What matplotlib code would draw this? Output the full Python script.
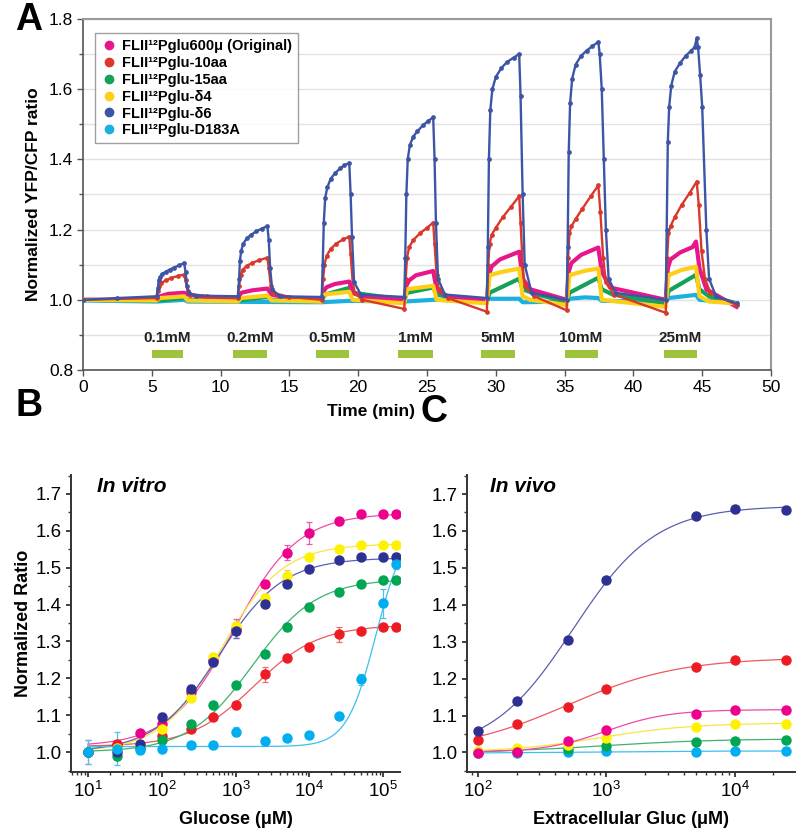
import numpy as np
import matplotlib
matplotlib.use("Agg")
import matplotlib.pyplot as plt
from matplotlib.lines import Line2D
from matplotlib.ticker import MultipleLocator, LogLocator, NullFormatter

plt.rcParams['font.family'] = ['Liberation Sans', 'DejaVu Sans']
plt.rcParams['mathtext.default'] = 'regular'

# ---------------- Panel A data (time traces) ----------------
names = ["FLII¹²Pglu600μ (Original)", "FLII¹²Pglu-10aa", "FLII¹²Pglu-15aa",
         "FLII¹²Pglu-δ4", "FLII¹²Pglu-δ6", "FLII¹²Pglu-D183A"]
colA = ["#e8168b", "#d9392b", "#16a05a", "#fdd017", "#3c55a5", "#1ab0e0"]

t_blue = [0, 2.5, 5.35, 5.45, 5.5, 5.6, 5.75, 6.0, 6.3, 6.6, 7.0, 7.35, 7.45, 7.55, 7.7, 8.2,
          11.25, 11.35, 11.4, 11.5, 11.65, 11.9, 12.2, 12.6, 13.0, 13.4, 13.5, 13.6, 13.75, 14.3,
          17.35, 17.42, 17.5, 17.6, 17.75, 18.0, 18.3, 18.7, 19.0, 19.35, 19.45, 19.55, 19.7, 20.2,
          23.35, 23.42, 23.5, 23.6, 23.75, 24.0, 24.3, 24.7, 25.1, 25.45, 25.55, 25.65, 25.8, 26.3,
          29.35, 29.42, 29.5, 29.6, 29.75, 30.0, 30.4, 30.8, 31.3, 31.7, 31.8, 31.95, 32.1, 32.6,
          35.15, 35.22, 35.3, 35.4, 35.55, 35.8, 36.2, 36.6, 37.0, 37.45, 37.55, 37.7, 37.85, 38.0, 38.2, 38.7,
          42.35, 42.42, 42.5, 42.6, 42.75, 43.0, 43.4, 43.8, 44.2, 44.45, 44.6, 44.7, 44.85, 45.0,
          45.3, 45.5, 46.0, 47.5]
v_blue = [1.0, 1.005, 1.01, 1.035, 1.055, 1.065, 1.073, 1.08, 1.086, 1.092, 1.098, 1.105, 1.08, 1.04, 1.02, 1.012,
          1.01, 1.06, 1.11, 1.14, 1.16, 1.175, 1.185, 1.195, 1.203, 1.21, 1.17, 1.09, 1.03, 1.01,
          1.008, 1.1, 1.22, 1.29, 1.32, 1.345, 1.36, 1.375, 1.383, 1.39, 1.3, 1.18, 1.05, 1.015,
          1.008, 1.12, 1.3, 1.4, 1.44, 1.465, 1.48, 1.497, 1.51, 1.52, 1.4, 1.22, 1.06, 1.015,
          1.005, 1.15, 1.4, 1.54, 1.6, 1.635, 1.66, 1.677, 1.69, 1.70, 1.58, 1.3, 1.1, 1.02,
          1.0, 1.15, 1.42, 1.56, 1.63, 1.67, 1.695, 1.71, 1.722, 1.735, 1.70, 1.60, 1.40, 1.2, 1.06, 1.02,
          1.0, 1.2, 1.45, 1.55, 1.61, 1.65, 1.675, 1.695, 1.71, 1.72, 1.745, 1.72, 1.64, 1.55,
          1.2, 1.06, 1.01, 0.99]

t_red = [0, 5.35, 5.45, 5.55, 5.7, 6.0, 6.4, 6.9, 7.35, 7.45, 7.6, 7.8, 9.0, 11.25,
         11.35, 11.45, 11.6, 11.9, 12.3, 12.8, 13.4, 13.5, 13.65, 13.8, 15.0, 17.35,
         17.45, 17.55, 17.7, 18.0, 18.4, 18.9, 19.35, 19.45, 19.6, 19.75, 20.3, 23.35,
         23.45, 23.55, 23.7, 24.0, 24.5, 25.0, 25.45, 25.55, 25.7, 25.85, 26.5, 29.35,
         29.45, 29.55, 29.7, 30.0, 30.5, 31.1, 31.7, 31.8, 31.95, 32.1, 32.8, 35.15,
         35.25, 35.35, 35.5, 35.8, 36.3, 36.9, 37.45, 37.6, 37.8, 38.0, 38.6, 42.35,
         42.45, 42.55, 42.7, 43.0, 43.5, 44.1, 44.6, 44.75, 44.95, 45.2, 45.6, 47.5]
v_red = [1.0, 1.005, 1.025, 1.04, 1.048, 1.055, 1.062, 1.068, 1.072, 1.055, 1.025, 1.015, 1.01, 1.005,
         1.04, 1.07, 1.085, 1.097, 1.105, 1.113, 1.12, 1.09, 1.04, 1.02, 1.008, 1.0,
         1.06, 1.1, 1.125, 1.145, 1.16, 1.172, 1.18, 1.13, 1.05, 1.02, 1.0, 0.974,
         1.06, 1.12, 1.15, 1.17, 1.19, 1.205, 1.22, 1.16, 1.07, 1.03, 1.005, 0.966,
         1.1, 1.16, 1.185, 1.205, 1.235, 1.265, 1.295, 1.22, 1.1, 1.04, 1.01, 0.97,
         1.12, 1.19, 1.21, 1.23, 1.26, 1.295, 1.326, 1.25, 1.12, 1.05, 1.015, 0.963,
         1.12, 1.19, 1.21, 1.235, 1.27, 1.305, 1.337, 1.27, 1.14, 1.06, 1.02, 0.985]

t_pink = [0, 5.35, 5.6, 6.2, 7.35, 7.6, 9.0, 11.25, 11.5, 12.3, 13.4, 13.7, 15.0,
          17.35, 17.5, 17.7, 18.3, 19.35, 19.6, 20.5, 23.35, 23.5, 23.7, 24.2, 25.45, 25.7, 26.5,
          29.35, 29.5, 29.7, 30.3, 31.7, 31.95, 32.5, 35.15, 35.3, 35.5, 36.2, 37.45, 37.7, 38.3,
          42.35, 42.5, 42.7, 43.4, 44.3, 44.55, 44.8, 45.3, 47.5]
v_pink = [1.0, 1.0, 1.01, 1.017, 1.02, 1.015, 1.008, 1.005, 1.02, 1.027, 1.032, 1.015, 1.005,
          1.0, 1.025, 1.036, 1.045, 1.052, 1.02, 1.005, 1.0, 1.04, 1.055, 1.07, 1.082, 1.03, 1.01,
          0.998, 1.07, 1.095, 1.115, 1.137, 1.06, 1.03, 1.0, 1.08, 1.105, 1.128, 1.149, 1.08, 1.035,
          1.0, 1.09, 1.115, 1.135, 1.15, 1.166, 1.09, 1.03, 0.98]

t_green = [0, 5.35, 7.35, 7.6, 11.25, 13.4, 13.7, 17.35, 17.6, 19.35, 19.6, 21.5,
           23.35, 23.55, 25.45, 25.7, 27.0, 29.35, 29.55, 31.7, 31.95, 33.0,
           35.15, 35.35, 37.45, 37.7, 38.5, 42.35, 42.55, 44.55, 44.8, 45.5, 47.5]
v_green = [1.0, 0.998, 1.005, 1.0, 0.998, 1.008, 1.0, 0.998, 1.015, 1.034, 1.02, 1.01,
           1.0, 1.02, 1.035, 1.015, 1.005, 0.995, 1.02, 1.06, 1.03, 1.015,
           0.995, 1.02, 1.063, 1.03, 1.015, 0.99, 1.025, 1.071, 1.03, 1.01, 0.99]

t_yellow = [0, 5.35, 5.6, 7.35, 7.6, 11.25, 11.5, 13.4, 13.7, 17.35, 17.55, 19.35, 19.6,
            23.35, 23.55, 25.45, 25.7, 26.3, 29.35, 29.55, 30.5, 31.7, 31.95, 32.5,
            35.15, 35.35, 36.5, 37.45, 37.7, 42.35, 42.55, 43.5, 44.55, 44.8, 45.5, 47.5]
v_yellow = [1.0, 0.998, 1.005, 1.01, 0.998, 0.995, 1.005, 1.012, 0.998, 0.995, 1.015, 1.023, 1.0,
            0.99, 1.03, 1.04, 1.0, 0.998, 0.99, 1.07, 1.08, 1.089, 1.01, 1.0,
            0.985, 1.07, 1.083, 1.089, 1.0, 0.98, 1.07, 1.085, 1.094, 1.01, 0.995, 0.99]

t_cyan = [0, 5.35, 7.35, 7.6, 17.35, 19.35, 23.35, 25.45, 29.35, 29.5, 31.7, 31.95,
          35.15, 35.35, 36.5, 37.45, 37.7, 42.35, 42.55, 44.55, 44.8, 47.5]
v_cyan = [0.998, 0.995, 1.0, 0.995, 0.993, 0.997, 0.995, 1.0, 0.997, 1.003, 1.003, 0.993,
          0.995, 1.003, 1.007, 1.005, 0.997, 0.995, 1.005, 1.014, 1.0, 0.99]

pulse_labels = ["0.1mM", "0.2mM", "0.5mM", "1mM", "5mM", "10mM", "25mM"]
pulse_start = [5.0, 10.9, 16.9, 22.9, 28.9, 35.0, 42.2]
pulse_end = [7.3, 13.4, 19.3, 25.4, 31.4, 37.4, 44.6]

# ---------------- Panel B data (in vitro) ----------------
xB = [10, 25, 50, 100, 250, 500, 1000, 2500, 5000, 10000, 25000, 50000, 100000, 150000]
B_pink = [1.000, 1.020, 1.052, 1.076, 1.162, 1.250, 1.335, 1.457, 1.541, 1.594, 1.626, 1.647, 1.647, 1.647]
B_red = [1.000, 1.021, 1.015, 1.043, 1.062, 1.096, 1.127, 1.211, 1.254, 1.285, 1.319, 1.329, 1.340, 1.340]
B_green = [1.000, 0.989, 1.010, 1.033, 1.075, 1.127, 1.182, 1.266, 1.340, 1.393, 1.434, 1.455, 1.466, 1.466]
B_yellow = [1.000, 1.010, 1.020, 1.062, 1.148, 1.257, 1.341, 1.418, 1.478, 1.529, 1.550, 1.563, 1.563, 1.563]
B_navy = [1.000, 1.000, 1.021, 1.096, 1.171, 1.243, 1.329, 1.401, 1.457, 1.497, 1.520, 1.529, 1.529, 1.529]
B_cyan = [1.000, 1.009, 1.007, 1.009, 1.019, 1.019, 1.055, 1.030, 1.039, 1.046, 1.098, 1.197, 1.403, 1.511]
E_pink = [0.032, 0.01, 0.008, 0.008, 0.01, 0.01, 0.025, 0.008, 0.02, 0.03, 0.01, 0.01, 0.008, 0.008]
E_red = [0.005, 0.01, 0.005, 0.005, 0.005, 0.008, 0.005, 0.02, 0.005, 0.008, 0.02, 0.005, 0.005, 0.005]
E_green = [0.005, 0.01, 0.005, 0.005, 0.005, 0.005, 0.008, 0.008, 0.008, 0.005, 0.008, 0.008, 0.005, 0.005]
E_yellow = [0.005, 0.005, 0.005, 0.008, 0.008, 0.01, 0.01, 0.01, 0.015, 0.005, 0.008, 0.008, 0.008, 0.008]
E_navy = [0.005, 0.005, 0.005, 0.01, 0.01, 0.01, 0.02, 0.01, 0.01, 0.005, 0.005, 0.008, 0.01, 0.01]
E_cyan = [0.032, 0.045, 0.005, 0.005, 0.005, 0.005, 0.012, 0.005, 0.005, 0.005, 0.005, 0.015, 0.04, 0.015]
# Hill fit parameters (Rmin, Rmax, K [uM], n)
fitB = {"pink": (1.015, 1.648, 950, 1.0), "red": (1.015, 1.345, 1800, 1.0),
        "green": (1.0, 1.47, 1700, 1.0), "yellow": (1.0, 1.565, 650, 1.05),
        "navy": (1.0, 1.527, 600, 1.0), "cyan": (1.015, 1.62, 80000, 2.2)}

# ---------------- Panel C data (in vivo) ----------------
xC = [100, 200, 500, 1000, 5000, 10000, 25000]
C_navy = [1.058, 1.139, 1.305, 1.466, 1.641, 1.659, 1.657]
C_red = [1.035, 1.078, 1.122, 1.172, 1.232, 1.251, 1.251]
C_pink = [0.999, 1.001, 1.031, 1.060, 1.105, 1.114, 1.114]
C_yellow = [1.004, 1.011, 1.019, 1.038, 1.069, 1.076, 1.078]
C_green = [1.000, 1.004, 1.008, 1.017, 1.028, 1.031, 1.035]
C_cyan = [0.998, 0.998, 1.000, 1.004, 1.000, 1.003, 1.004]
fitC = {"navy": (1.0, 1.668, 550, 1.35), "red": (1.0, 1.257, 500, 1.0),
        "pink": (1.0, 1.116, 1000, 1.8), "yellow": (1.0, 1.08, 900, 1.2),
        "green": (1.0, 1.037, 1000, 1.0), "cyan": (0.998, 1.004, 700, 1.0)}

pt_col = {"pink": "#ec008c", "red": "#ed1c24", "green": "#00a651",
          "yellow": "#fff200", "navy": "#2e3192", "cyan": "#00aeef"}
ln_col = {"pink": "#ee4aa5", "red": "#f0585c", "green": "#3cb36e",
          "yellow": "#f5e642", "navy": "#5a5fae", "cyan": "#3cc0f0"}
err_col = {"pink": "#ee5aa8", "red": "#f06a6a", "green": "#40b070",
           "yellow": "#e8d830", "navy": "#6a70b8", "cyan": "#50c0ee"}


def hill(x, p):
    rmin, rmax, k, n = p
    x = np.asarray(x, float)
    return rmin + (rmax - rmin) * x**n / (k**n + x**n)


fig = plt.figure(figsize=(8.0, 8.39), dpi=100)

# ================= Panel A =================
axA = fig.add_axes([83/800, 1-370/839, 688/800, 351/839])
traces = [(t_cyan, v_cyan, 5, 3.0), (t_green, v_green, 2, 3.0), (t_pink, v_pink, 0, 3.0),
          (t_yellow, v_yellow, 3, 3.0), (t_red, v_red, 1, 1.7), (t_blue, v_blue, 4, 1.7)]
for t, v, ci, lw in traces:
    ms = 2.4 if lw < 2 else 0
    axA.plot(t, v, color=colA[ci], lw=lw, marker='o', ms=ms, solid_joinstyle='round', zorder=3)
for lab, s, e in zip(pulse_labels, pulse_start, pulse_end):
    axA.add_patch(plt.Rectangle((s, 0.835), e - s, 0.022, color="#9dc43c", lw=0, zorder=3))
    axA.text((s + e) / 2, 0.872, lab, ha='center', va='bottom', fontsize=11,
             fontweight='bold', color='#222222', zorder=4)
axA.set_xlim(0, 50)
axA.set_ylim(0.8, 1.8)
axA.set_xticks(np.arange(0, 51, 5))
axA.set_yticks([0.8, 1.0, 1.2, 1.4, 1.6, 1.8])
axA.yaxis.set_minor_locator(MultipleLocator(0.1))
axA.grid(axis='y', which='both', color='#e2e2e2', lw=1.0, zorder=0)
axA.set_axisbelow(True)
axA.tick_params(axis='both', which='major', labelsize=12.5, length=4, width=1, color='#555555', pad=3)
axA.tick_params(axis='y', which='minor', length=3, width=1, color='#555555')
for s in ['left', 'bottom']:
    axA.spines[s].set_color('#555555'); axA.spines[s].set_linewidth(1.2)
for s in ['top', 'right']:
    axA.spines[s].set_color('#9a9a9a'); axA.spines[s].set_linewidth(1.5)
axA.set_xlabel("Time (min)", fontsize=12.5, fontweight='bold')
axA.xaxis.set_label_coords(0.418, -0.098)
axA.set_ylabel("Normalized YFP/CFP ratio", fontsize=12.5, fontweight='bold', labelpad=6)
handles = [Line2D([], [], ls='none', marker='o', ms=6, color=c) for c in colA]
leg = axA.legend(handles, names, loc='upper left', bbox_to_anchor=(0.017, 0.96),
                 borderaxespad=0, frameon=True, fancybox=False, handletextpad=0.3,
                 handlelength=1.2, labelspacing=0.2, borderpad=0.4,
                 prop={'weight': 'bold', 'size': 10.5})
leg.get_frame().set_edgecolor('#888888')
leg.get_frame().set_linewidth(1.0)

# ================= Panel B =================
axB = fig.add_axes([71/800, 1-772/839, 329/800, 297/839])
seriesB = [("pink", B_pink, E_pink), ("red", B_red, E_red), ("green", B_green, E_green),
           ("yellow", B_yellow, E_yellow), ("navy", B_navy, E_navy), ("cyan", B_cyan, E_cyan)]
xf = np.logspace(1, np.log10(150000), 300)
for key, vals, errs in seriesB:
    axB.plot(xf, hill(xf, fitB[key]), color=ln_col[key], lw=0.9, zorder=2)
    axB.errorbar(xB, vals, yerr=errs, fmt='none', ecolor=err_col[key], elinewidth=0.9,
                 capsize=2.2, capthick=0.9, zorder=3)
    axB.plot(xB, vals, ls='none', marker='o', ms=6.5, color=pt_col[key], zorder=4)
axB.set_xscale('log')
axB.set_xlim(10**0.77, 10**5.23)
axB.set_ylim(0.946, 1.7515)

# ================= Panel C =================
axC = fig.add_axes([467/800, 1-772/839, 328/800, 297/839])
seriesC = [("cyan", C_cyan), ("green", C_green), ("yellow", C_yellow), ("pink", C_pink),
           ("red", C_red), ("navy", C_navy)]
xf2 = np.logspace(2, np.log10(25000), 300)
for key, vals in seriesC:
    axC.plot(xf2, hill(xf2, fitC[key]), color=ln_col[key], lw=0.9, zorder=2)
    axC.plot(xC, vals, ls='none', marker='o', ms=6.5, color=pt_col[key], zorder=4)
axC.set_xscale('log')
axC.set_xlim(10**1.914, 10**4.47)
axC.set_ylim(0.947, 1.7515)

for ax in (axB, axC):
    ax.spines['top'].set_visible(False)
    ax.spines['right'].set_visible(False)
    for s in ['left', 'bottom']:
        ax.spines[s].set_color('#333333'); ax.spines[s].set_linewidth(1.4)
    ax.set_yticks(np.arange(1.0, 1.71, 0.1))
    ax.yaxis.set_minor_locator(MultipleLocator(0.05))
    ax.xaxis.set_major_locator(LogLocator(base=10, numticks=10))
    ax.xaxis.set_minor_locator(LogLocator(base=10, subs=np.arange(2, 10), numticks=20))
    ax.xaxis.set_minor_formatter(NullFormatter())
    ax.tick_params(axis='both', which='major', labelsize=13.5, length=3.5, width=1.3,
                   color='#333333', direction='out', pad=3)
    ax.tick_params(axis='both', which='minor', length=2, width=1.0, color='#333333',
                   direction='out')
    ax.set_yticklabels([f"{v:.1f}" for v in np.arange(1.0, 1.71, 0.1)])

axB.set_xlabel("Glucose (μM)", fontsize=13, fontweight='bold', labelpad=7)
axB.set_ylabel("Normalized Ratio", fontsize=13, fontweight='bold', labelpad=3)
axC.set_xlabel("Extracellular Gluc (μM)", fontsize=13, fontweight='bold', labelpad=7)
axB.text(0.08, 0.96, "In vitro", transform=axB.transAxes, fontsize=15,
         fontweight='bold', fontstyle='italic', ha='left', va='center')
axC.text(0.07, 0.96, "In vivo", transform=axC.transAxes, fontsize=15,
         fontweight='bold', fontstyle='italic', ha='left', va='center')

# panel letters
fig.text(15/800, 1-406/839, "B", fontsize=27, fontweight='bold', ha='left', va='center')
fig.text(15/800, 1-20/839, "A", fontsize=27, fontweight='bold', ha='left', va='center')
fig.text(420/800, 1-412/839, "C", fontsize=27, fontweight='bold', ha='left', va='center')

fig.savefig("out.png", dpi=100)
